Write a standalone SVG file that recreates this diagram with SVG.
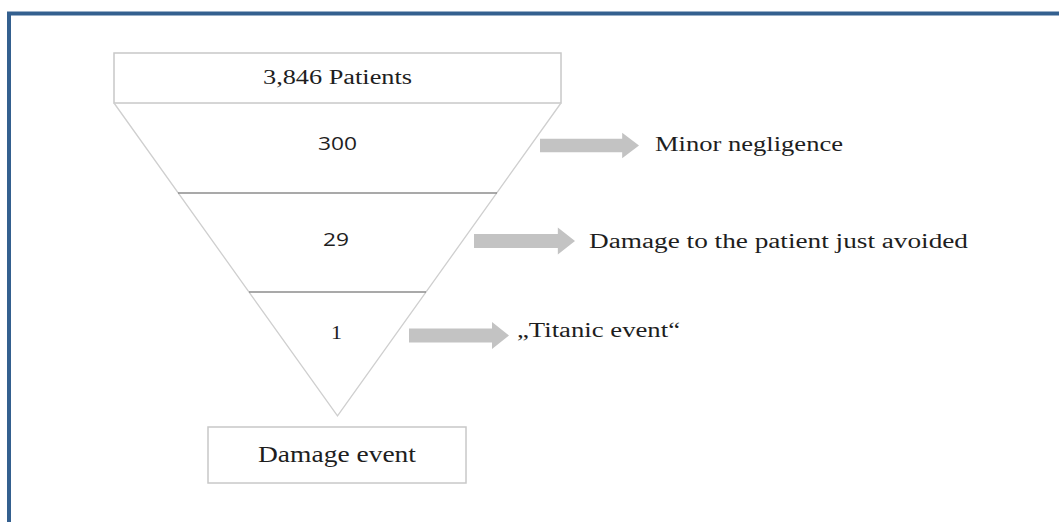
<svg xmlns="http://www.w3.org/2000/svg" width="1059" height="522" viewBox="0 0 1059 522">
  <style>
    .frame { fill: none; stroke: #34608f; stroke-width: 4; }
    .box { fill: #ffffff; stroke: #c8c8c8; stroke-width: 1.5; }
    .edge { fill: none; stroke: #cfcfcf; stroke-width: 1.3; }
    .divider { fill: none; stroke: #8c8c8c; stroke-width: 1.3; }
    .arrow { fill: #c3c3c3; }
    .serif { font-family: "Liberation Serif", "DejaVu Serif", serif; fill: #1e1e1e; }
    .sans { font-family: "Open Sans", "Liberation Sans", sans-serif; fill: #1e1e1e; }
  </style>
  <defs>
    <!-- block arrow: shaft then head, pointing right, origin at shaft start / centre line -->
    <path id="blockArrow" d="M0,-7 L83,-7 L83,-13.5 L100,0 L83,13.5 L83,7 L0,7 Z"/>
  </defs>

  <rect width="1059" height="522" fill="#ffffff"/>
  <!-- outer frame, open to the right and bottom -->
  <path class="frame" d="M9,530 L9,13.5 L1070,13.5"/>

  <g id="top-box">
    <rect class="box" x="114" y="53" width="447" height="50"/>
    <text class="serif" x="337.5" y="84" font-size="20" text-anchor="middle" textLength="149" lengthAdjust="spacingAndGlyphs">3,846 Patients</text>
  </g>

  <g id="pyramid">
    <path class="edge" d="M114,103 L337.5,416 L561,103"/>
    <line class="divider" x1="178" y1="193" x2="497" y2="193"/>
    <line class="divider" x1="249" y1="292" x2="426" y2="292"/>
  </g>

  <g id="level-300">
    <text class="sans" x="337.5" y="150" font-size="18.5" text-anchor="middle" textLength="39" lengthAdjust="spacingAndGlyphs">300</text>
  </g>
  <g id="level-29">
    <text class="sans" x="336" y="246" font-size="18.5" text-anchor="middle" textLength="26" lengthAdjust="spacingAndGlyphs">29</text>
  </g>
  <g id="level-1">
    <text class="serif" x="336.5" y="339" font-size="19" text-anchor="middle" textLength="11" lengthAdjust="spacingAndGlyphs">1</text>
  </g>

  <g id="bottom-box">
    <rect class="box" x="208" y="427" width="258" height="56"/>
    <text class="serif" x="337" y="462" font-size="22.5" text-anchor="middle" textLength="158" lengthAdjust="spacingAndGlyphs">Damage event</text>
  </g>

  <g id="connectors">
    <use href="#blockArrow" class="arrow" transform="translate(540,145.5) scale(0.99,0.95)"/>
    <use href="#blockArrow" class="arrow" transform="translate(474,241) scale(1.01,1)"/>
    <use href="#blockArrow" class="arrow" transform="translate(409,335.5) scale(1,1)"/>
  </g>

  <g id="label-minor">
    <text class="serif" x="655" y="151" font-size="20.5" textLength="188" lengthAdjust="spacingAndGlyphs">Minor negligence</text>
  </g>
  <g id="label-avoided">
    <text class="serif" x="589" y="248" font-size="20.5" textLength="379" lengthAdjust="spacingAndGlyphs">Damage to the patient just avoided</text>
  </g>
  <g id="label-titanic">
    <text class="serif" x="517" y="337" font-size="20.5" textLength="163" lengthAdjust="spacingAndGlyphs">„Titanic event“</text>
  </g>
</svg>
